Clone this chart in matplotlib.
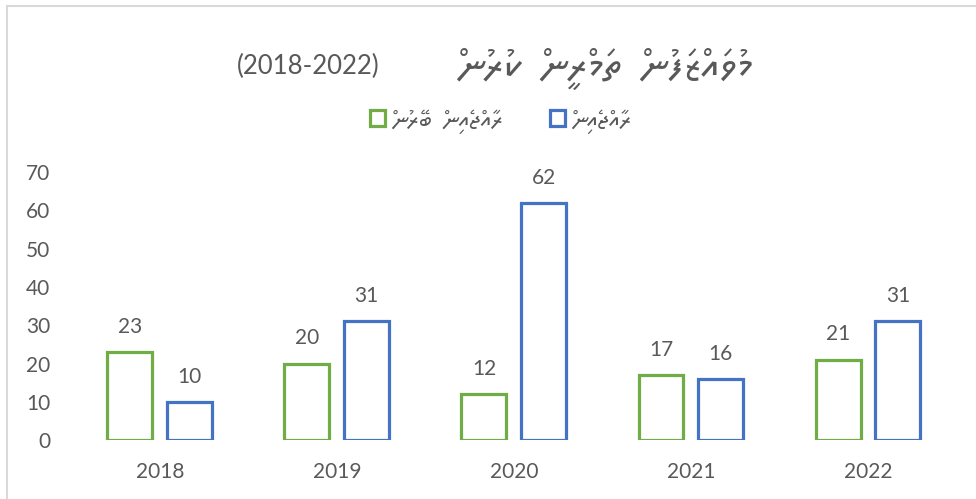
import matplotlib
matplotlib.use("Agg")
import matplotlib.pyplot as plt
from matplotlib.lines import Line2D
import numpy as np

# data
years = ["2018", "2019", "2020", "2021", "2022"]
abroad = [23, 20, 12, 17, 21]      # ރާއްޖެއިން ބޭރުން
local = [10, 31, 62, 16, 31]       # ރާއްޖެއިން
series_names = ["ރާއްޖެއިން ބޭރުން", "ރާއްޖެއިން"]
title_text = "މުވައްޒަފުން ތަމްރީން ކުރުން"
title_years = "(2018-2022)"
y_ticks = [0, 10, 20, 30, 40, 50, 60, 70]

GREEN = "#70AD47"
BLUE = "#4472C4"
GREY = "#595959"
FONTS = ["Lato", "Noto Sans Thaana", "DejaVu Sans"]


def rtl(s):
    """Thaana is written right to left; matplotlib lays out left to right,
    so flip the order of letters. Vowel signs go in front of their letter,
    as a shaping engine would put them in visual order."""
    groups = []
    for ch in s:
        if 0x07A6 <= ord(ch) <= 0x07B0 and groups:
            groups[-1] = ch + groups[-1]
        else:
            groups.append(ch)
    return "".join(reversed(groups))


def rtl_words(s, gap=" "):
    return gap.join(rtl(w) for w in reversed(s.split(" ")))


plt.rcParams["font.family"] = FONTS

fig = plt.figure(figsize=(9.76, 4.99), dpi=100)
ax = fig.add_axes([0.073, 0.118, 0.907, 0.537])

x = np.arange(len(years))
w = 0.254
off = 0.169
b1 = ax.bar(x - off, abroad, w, facecolor="white", edgecolor=GREEN, linewidth=2.3,
            label=rtl_words(series_names[0], "  "))
b2 = ax.bar(x + off, local, w, facecolor="white", edgecolor=BLUE, linewidth=2.3,
            label=rtl_words(series_names[1]))
ax.bar_label(b1, padding=11, fontsize=15, color=GREY)
ax.bar_label(b2, padding=11, fontsize=15, color=GREY)

ax.set_xlim(-0.5, len(years) - 0.5)
ax.set_ylim(0, 70)
ax.set_yticks(y_ticks)
ax.set_xticks(x, years)
ax.tick_params(axis="both", length=0, labelsize=15, labelcolor=GREY)
ax.tick_params(axis="y", pad=15)
ax.tick_params(axis="x", pad=16)
for s in ax.spines.values():
    s.set_visible(False)

# title: years on the left, Thaana words on the right
fig.text(380 / 976, 0.866, title_years, ha="right", va="center", fontsize=18.5, color=GREY)
fig.text(752 / 976, 0.862, rtl_words(title_text, "  "), ha="right", va="center",
         fontsize=29, color=GREY)

ax.legend(loc="center", bbox_to_anchor=(0.513, 0.757), bbox_transform=fig.transFigure,
          ncol=2, frameon=False, fontsize=17, labelcolor=GREY,
          handlelength=0.65, handleheight=0.65, handletextpad=0.3, columnspacing=2.0)

# light grey chart frame
fig.add_artist(Line2D([0.007, 0.007], [0.0, 0.988], color="#D9D9D9", lw=1.5, transform=fig.transFigure))
fig.add_artist(Line2D([0.007, 1.0], [0.988, 0.988], color="#D9D9D9", lw=1.5, transform=fig.transFigure))

fig.savefig("out.png", dpi=100)
